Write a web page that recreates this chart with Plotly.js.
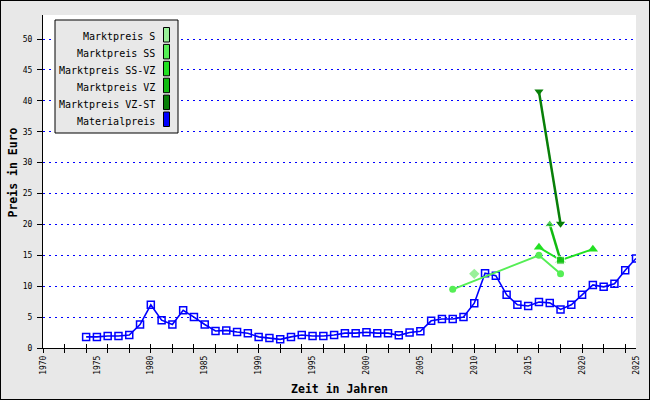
<!DOCTYPE html>
<html>
<head>
<meta charset="utf-8">
<script src="https://cdn.plot.ly/plotly-3.0.1.min.js"></script>
<style>
  html, body { margin: 0; padding: 0; background: #e8e8e8; }
  #wrap { position: relative; width: 650px; height: 400px; }
  #chart { width: 650px; height: 400px; }
  #frame { position: absolute; left: 0; top: 0; width: 650px; height: 400px; box-sizing: border-box; border: 1px solid #000; pointer-events: none; }
</style>
</head>
<body>
<div id="wrap"><div id="chart"></div><div id="frame"></div></div>
<script>
// ---- data ----
const seriesNames = ["Marktpreis S", "Marktpreis SS", "Marktpreis SS-VZ", "Marktpreis VZ", "Marktpreis VZ-ST", "Materialpreis"];

const yearsS = [2010];
const valuesS = [12.0];

const yearsSS = [2008, 2016, 2018];
const valuesSS = [9.5, 15.0, 12.0];

const yearsSSVZ = [2016, 2018, 2021];
const valuesSSVZ = [16.3, 14.2, 16.0];

const yearsVZ = [2017, 2018];
const valuesVZ = [20.0, 14.2];

const yearsVZST = [2016, 2018];
const valuesVZST = [41.5, 20.1];

const yearsMaterial = [1974, 1975, 1976, 1977, 1978, 1979, 1980, 1981, 1982, 1983, 1984, 1985, 1986, 1987, 1988, 1989,
  1990, 1991, 1992, 1993, 1994, 1995, 1996, 1997, 1998, 1999, 2000, 2001, 2002, 2003, 2004, 2005, 2006, 2007, 2008, 2009,
  2010, 2011, 2012, 2013, 2014, 2015, 2016, 2017, 2018, 2019, 2020, 2021, 2022, 2023, 2024, 2025];
const valuesMaterial = [1.8, 1.8, 1.95, 1.95, 2.1, 3.8, 7.0, 4.5, 3.8, 6.1, 5.0, 3.8, 2.75, 2.85, 2.6, 2.4,
  1.8, 1.6, 1.4, 1.8, 2.1, 1.95, 1.95, 2.1, 2.4, 2.4, 2.55, 2.4, 2.4, 2.05, 2.5, 2.7, 4.4, 4.7, 4.7, 5.0,
  7.25, 12.1, 11.7, 8.6, 7.0, 6.8, 7.45, 7.3, 6.25, 7.0, 8.6, 10.2, 9.9, 10.4, 12.6, 14.5];

const xLabelYears = [1970, 1975, 1980, 1985, 1990, 1995, 2000, 2005, 2010, 2015, 2020, 2025];
const yTickValues = [0, 5, 10, 15, 20, 25, 30, 35, 40, 45, 50];
const xTitle = "Zeit in Jahren";
const yTitle = "Preis in Euro";

// ---- styles ----
const colors = ["#99f099", "#55ee55", "#22e022", "#11bb11", "#087f08", "#0000ff"];
const MONO = "DejaVu Sans Mono, Liberation Mono, monospace";

// ---- layout geometry ----
const W = 650, H = 400;
const M = {l: 43, r: 14, t: 15, b: 52};
const PW = W - M.l - M.r, PH = H - M.t - M.b;
const px = x => (x - M.l) / PW;
const py = y => (H - M.b - y) / PH;

const traces = [
  {x: yearsMaterial, y: valuesMaterial, name: seriesNames[5], mode: "lines+markers",
   line: {color: colors[5], width: 1.6}, marker: {symbol: "square-open", size: 7, color: colors[5], line: {width: 1.5, color: colors[5]}}},
  {x: yearsSS, y: valuesSS, name: seriesNames[1], mode: "lines+markers",
   line: {color: colors[1], width: 2}, marker: {symbol: "circle", size: 7, color: colors[1]}},
  {x: yearsS, y: valuesS, name: seriesNames[0], mode: "lines+markers",
   line: {color: colors[0], width: 2}, marker: {symbol: "diamond", size: 8, color: colors[0]}},
  {x: yearsSSVZ, y: valuesSSVZ, name: seriesNames[2], mode: "lines+markers",
   line: {color: colors[2], width: 2}, marker: {symbol: "triangle-up", size: 9, color: colors[2]}},
  {x: yearsVZ, y: valuesVZ, name: seriesNames[3], mode: "lines+markers",
   line: {color: colors[3], width: 2.5}, marker: {symbol: ["triangle-up", "square"], size: [9, 8], color: colors[3]}},
  {x: yearsVZST, y: valuesVZST, name: seriesNames[4], mode: "lines+markers",
   line: {color: colors[4], width: 2.5}, marker: {symbol: "triangle-down", size: 8, color: colors[4]}},
  {x: [], y: [], xaxis: "x2", showlegend: false, hoverinfo: "skip"},
  {x: [], y: [], xaxis: "x3", showlegend: false, hoverinfo: "skip"}
];

// custom legend (swatch at the right of right-aligned text)
const shapes = [];
const annotations = [];
shapes.push({type: "rect", xref: "paper", yref: "paper", x0: px(55), x1: px(178), y0: py(133), y1: py(20),
  fillcolor: "#e8e8e8", line: {color: "#000", width: 1}, layer: "above"});
seriesNames.forEach((n, i) => {
  const top = 27.5 + 16.9 * i;
  shapes.push({type: "rect", xref: "paper", yref: "paper", x0: px(163.5), x1: px(169.5), y0: py(top + 14.5), y1: py(top),
    fillcolor: colors[i], line: {color: "#000", width: 1}, layer: "above"});
  annotations.push({xref: "paper", yref: "paper", x: px(157), y: py(top + 9.5), xanchor: "right", yanchor: "middle",
    text: n, showarrow: false, font: {family: MONO, size: 10, color: "#000"}});
});
// y axis title
annotations.push({xref: "paper", yref: "paper", x: px(12), y: py(172.5), xanchor: "center", yanchor: "middle",
  textangle: -90, text: yTitle, showarrow: false, font: {family: MONO, size: 11.5, weight: "bold", color: "#000"}});

const layout = {
  width: W, height: H,
  margin: M,
  paper_bgcolor: "#e8e8e8",
  plot_bgcolor: "#ffffff",
  showlegend: false,
  font: {family: MONO, color: "#000"},
  xaxis: {range: [1970, 2025], showgrid: false, zeroline: false, showline: true, linecolor: "#000", linewidth: 1,
    ticks: "outside", tick0: 1970, dtick: 2, ticklen: 4, tickcolor: "#000", showticklabels: false},
  xaxis2: {range: [1970, 2025], overlaying: "x", anchor: "y", side: "bottom", showgrid: false, zeroline: false, showline: false,
    ticks: "inside", tick0: 1970, dtick: 2, ticklen: 4, tickcolor: "#000", showticklabels: false},
  xaxis3: {range: [1970, 2025], overlaying: "x", anchor: "y", side: "bottom", showgrid: false, zeroline: false, showline: false,
    ticks: "", tickmode: "array", tickvals: xLabelYears, ticktext: xLabelYears.map(String), tickangle: -90,
    tickfont: {family: MONO, size: 8}, ticklabelstandoff: 5,
    title: {text: xTitle, font: {family: MONO, size: 11.5, weight: "bold"}, standoff: 11}},
  yaxis: {range: [0, 53.9], zeroline: false, showline: true, linecolor: "#000", linewidth: 1,
    ticks: "outside", ticklen: 5, tickcolor: "#000", tickmode: "array", tickvals: yTickValues,
    tickfont: {family: MONO, size: 8}, ticklabelstandoff: 3,
    showgrid: true, gridcolor: "#0000ff", gridwidth: 1, griddash: "2px,4px"},
  shapes: shapes,
  annotations: annotations
};

Plotly.newPlot("chart", traces, layout, {displayModeBar: false, staticPlot: true});
</script>
</body>
</html>
